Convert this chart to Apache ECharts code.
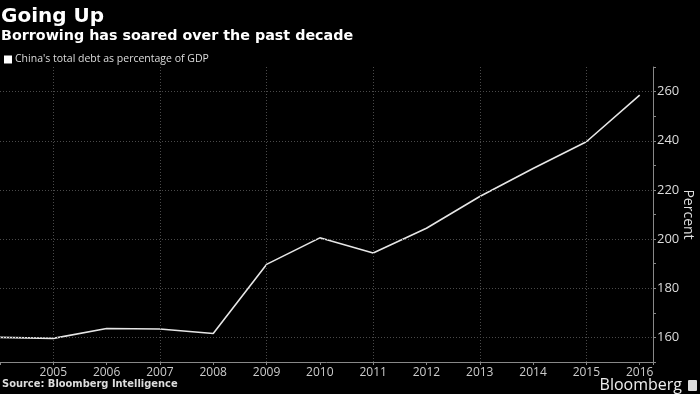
<!DOCTYPE html>
<html>
<head>
<meta charset="utf-8">
<script src="https://cdn.jsdelivr.net/npm/echarts@6/dist/echarts.min.js"></script>
<style>
html,body{margin:0;padding:0;background:#000;}
#c{width:700px;height:394px;}
</style>
</head>
<body>
<div id="c"></div>
<script>
var years = [2004,2005,2006,2007,2008,2009,2010,2011,2012,2013,2014,2015,2016];
var debt = [160.0,159.6,163.6,163.4,161.6,189.7,200.5,194.3,204.4,217.3,228.7,239.6,258.6];
var gridYears = [2005,2007,2009,2011,2013,2015];
var gridValues = [160,180,200,220,240,260];

var chart = echarts.init(document.getElementById('c'), null, {renderer:'canvas'});
var font = '"Open Sans", "DejaVu Sans", sans-serif';
var gridStyle = {color:'#4a4a4a', type:[1,2], width:1};
chart.setOption({
  backgroundColor:'#000',
  animation:false,
  title:[
    {text:'Going Up', left:1, top:7, padding:0, textStyle:{color:'#fff', fontSize:20, fontWeight:'bold', fontFamily:'"DejaVu Sans", sans-serif'}},
    {text:'Borrowing has soared over the past decade', left:1, top:29, padding:0, textStyle:{color:'#fff', fontSize:14.3, fontWeight:'bold', fontFamily:'"DejaVu Sans", sans-serif'}},
    {text:'Source: Bloomberg Intelligence', left:2, top:379, padding:0, textStyle:{color:'#ddd', fontSize:11, fontWeight:'bold', fontFamily:'"Liberation Sans Narrow", "DejaVu Sans Condensed", sans-serif'}},
    {text:'Bloomberg', right:18, top:377, padding:0, textStyle:{color:'#eee', fontSize:16, fontWeight:'normal', fontFamily:'"Liberation Sans Narrow", "Open Sans", sans-serif'}}
  ],
  graphic:[
    {type:'rect', right:3, top:380, shape:{width:9, height:11, r:1}, style:{fill:'#ddd'}}
  ],
  legend:{
    left:4, top:54, padding:0, itemWidth:8, itemHeight:8, icon:'rect', itemGap:4,
    textStyle:{color:'#ddd', fontSize:10.5, fontFamily:font, padding:[0,0,0,-2]},
    data:[{name:"China's total debt as percentage of GDP", itemStyle:{color:'#fff'}}]
  },
  grid:{left:0, right:47, top:67, bottom:32, containLabel:false, outerBoundsMode:'none'},
  xAxis:{
    type:'value', min:2004, max:2016.25, interval:1,
    axisLine:{show:true, lineStyle:{color:'#888', width:1}},
    axisTick:{show:true, length:3, lineStyle:{color:'#888'}},
    axisLabel:{color:'#ccc', fontSize:12, fontFamily:font, margin:5, showMinLabel:true, showMaxLabel:true,
      formatter:function(v){ return (v>=2005 && v<=2016 && v%1===0) ? String(v) : ''; }},
    splitLine:{show:false}
  },
  yAxis:{
    type:'value', position:'right', min:150, max:270, interval:10,
    axisLine:{show:true, lineStyle:{color:'#888', width:1}},
    axisTick:{show:true, length:3, lineStyle:{color:'#888'}},
    axisLabel:{color:'#ddd', fontSize:13, fontFamily:font, margin:4,
      formatter:function(v){ return (v%20===0 && v>=160 && v<=260) ? String(v) : ''; }},
    splitLine:{show:false},
    name:'Percent', nameLocation:'middle', nameRotate:-90, nameGap:28, nameMoveOverlap:false,
    nameTextStyle:{color:'#ddd', fontSize:14, fontFamily:font}
  },
  series:[{
    name:"China's total debt as percentage of GDP",
    type:'line', symbol:'none',
    lineStyle:{color:'#e6e6e6', width:1.6},
    itemStyle:{color:'#fff'},
    data: years.map(function(y,i){ return [y, debt[i]]; }),
    markLine:{
      silent:true, symbol:'none', label:{show:false},
      lineStyle:gridStyle,
      data: gridYears.map(function(y){ return {xAxis:y}; })
        .concat(gridValues.map(function(v){ return {yAxis:v}; }))
    },
    z:3
  }]
});
</script>
</body>
</html>
